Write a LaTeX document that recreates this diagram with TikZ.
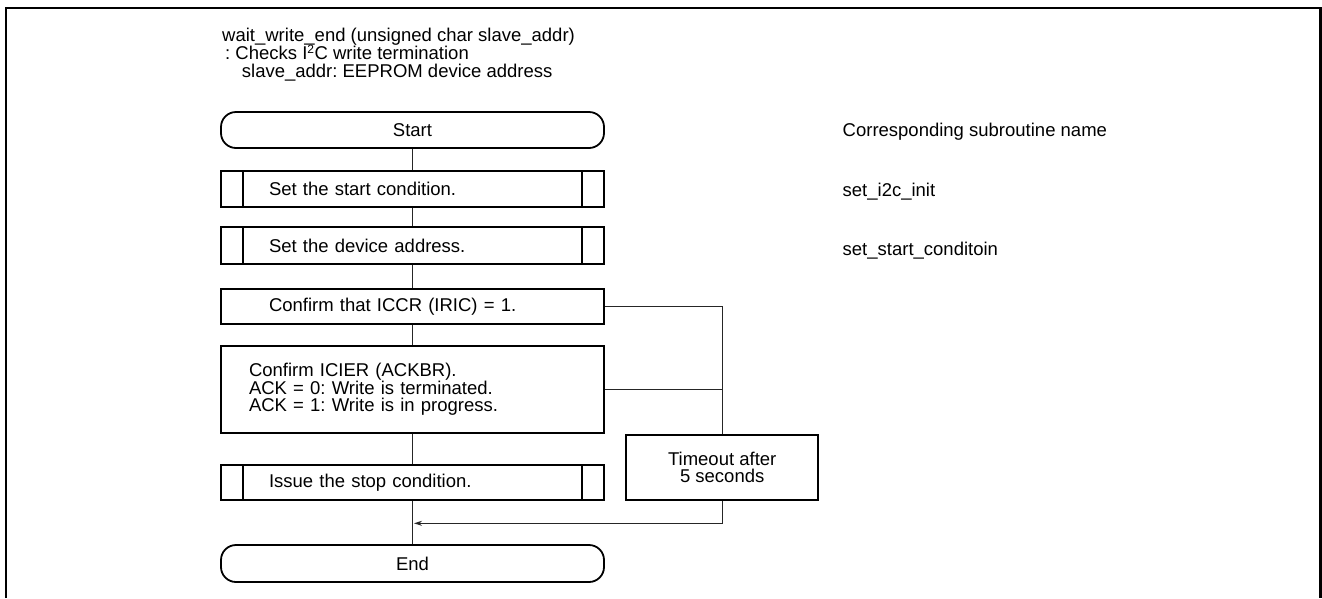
\documentclass[tikz,border=0pt]{standalone}
\usepackage{fontspec}
\setmainfont{Liberation Sans}
\usetikzlibrary{arrows.meta}
\frenchspacing
\begin{document}
\begin{tikzpicture}[x=1pt,y=-1pt,
  font=\fontsize{18.5}{17.7}\selectfont,
  box/.style={draw,line width=1.8pt,minimum width=383pt,inner sep=0pt},
  term/.style={box,rounded corners=15pt,minimum height=36pt},
  proc/.style={box,text width=#1,align=left},
  sub/.style={proc=287pt,minimum height=36pt,
    path picture={\draw[line width=1.8pt]
      ([xshift=22pt]path picture bounding box.north west) -- ([xshift=22pt]path picture bounding box.south west)
      ([xshift=-22pt]path picture bounding box.north east) -- ([xshift=-22pt]path picture bounding box.south east);}},
  note/.style={anchor=base west,inner sep=0pt},
  link/.style={line width=1.2pt,black!85}]
  \useasboundingbox (0,0) rectangle (1322,598);
  \draw[line width=2.3pt] (6.2,598) -- (6.2,7.8) -- (1320.6,7.8) -- (1320.6,598);

  \node[note] (hdr1) at (222,41.8) {wait\_write\_end (unsigned char slave\_addr)};
  \node[note] (hdr2) at (225,59.5) {: Checks I\textsuperscript{\fontsize{12}{12}\selectfont 2}C write termination};
  \node[note] (hdr3) at (241.7,77.3) {slave\_addr: EEPROM device address};

  \node[term] (start) at (412.5,130) {Start};
  \node[sub] (setstart) at (412.5,189) {Set the start condition.};
  \node[sub,minimum height=37pt] (setaddr) at (412.5,245.5) {Set the device address.};
  \node[proc=287pt,minimum height=35pt] (iric) at (412.5,306.7) {Confirm that ICCR (IRIC) = 1.};
  \node[proc=327pt,minimum height=87pt] (ackbr) at (412.5,389.3)
    {Confirm ICIER (ACKBR).\\ACK = 0: Write is terminated.\\ACK = 1: Write is in progress.};
  \node[sub,minimum height=35pt] (stop) at (412.5,482.5) {Issue the stop condition.};
  \node[term,minimum height=37pt] (end) at (412.5,563.5) {End};
  \node[draw,line width=1.8pt,minimum width=192pt,minimum height=65pt,align=center] (tmo) at (722.2,467.5)
    {Timeout after\\5 seconds};
  \coordinate (join) at (412.5,523.3);

  \node[note] (subhdr) at (842.5,136.5) {Corresponding subroutine name};
  \node[note] (subinit) at (842.5,196.5) {set\_i2c\_init};
  \node[note] (subcond) at (842.5,255) {set\_start\_conditoin};

  \draw[link] (start) -- (setstart) -- (setaddr) -- (iric) -- (ackbr) -- (stop) -- (end);
  \draw[link] (iric.east) -| (tmo.north);
  \draw[link] (ackbr.east) -- (ackbr.east -| tmo.north);
  \draw[link,-{Stealth[length=8pt,width=5pt]},shorten >=1.5pt] (tmo.south) |- (join);
\end{tikzpicture}
\end{document}
